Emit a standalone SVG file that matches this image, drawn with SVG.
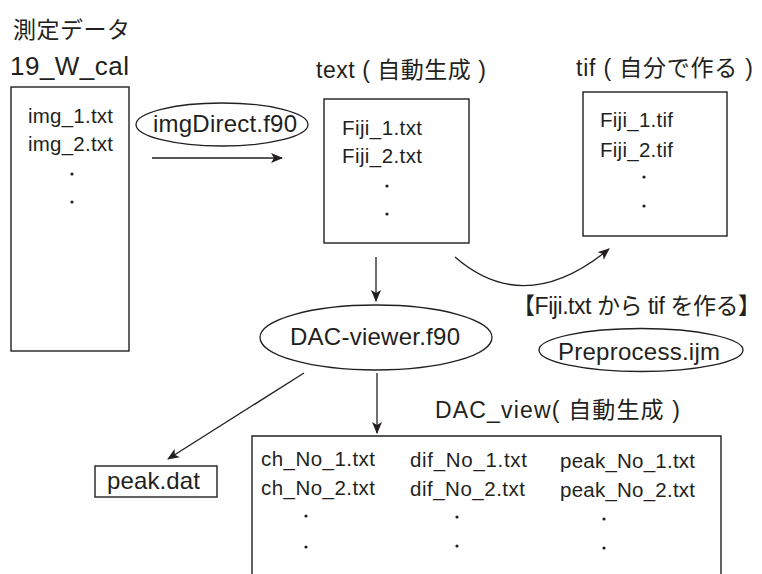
<svg xmlns="http://www.w3.org/2000/svg" width="762" height="574" viewBox="0 0 762 574">
<style>
text{font-family:"Liberation Sans","Noto Sans CJK JP",sans-serif;fill:#231f20}
.s{font-size:20.5px}
.m{font-size:23px}
.l{font-size:24px}
.box{fill:none;stroke:#231f20;stroke-width:1.4}
.ell{fill:none;stroke:#231f20;stroke-width:1.3}
.con{fill:none;stroke:#231f20;stroke-width:1.3;marker-end:url(#ah)}
.dot{fill:#231f20}
</style>
<defs>
<marker id="ah" viewBox="0 0 12 10" refX="11" refY="5" markerWidth="12" markerHeight="10" markerUnits="userSpaceOnUse" orient="auto">
<path d="M0,0 L12,5 L0,10 L3,5 z" fill="#231f20"/>
</marker>
</defs>
<rect width="762" height="574" fill="#fff"/>

<g id="data">
<text class="m" x="13" y="38" textLength="117">測定データ</text>
<text x="10" y="75" style="font-size:26px" textLength="119">19_W_cal</text>
<rect class="box" x="11" y="87" width="118" height="264"/>
<text class="s" x="28" y="123" textLength="85">img_1.txt</text>
<text class="s" x="28" y="151" textLength="85">img_2.txt</text>
<circle class="dot" cx="72" cy="174" r="1.6"/>
<circle class="dot" cx="72" cy="202" r="1.6"/>
</g>

<g id="imgDirect">
<ellipse class="ell" cx="222" cy="124.5" rx="86" ry="21.5"/>
<text class="l" x="153" y="132" textLength="144">imgDirect.f90</text>
</g>

<g id="text">
<text class="m" x="316" y="78" textLength="170">text ( 自動生成 )</text>
<rect class="box" x="324" y="99" width="145" height="144"/>
<text class="s" x="342" y="135" textLength="80">Fiji_1.txt</text>
<text class="s" x="342" y="163" textLength="80">Fiji_2.txt</text>
<circle class="dot" cx="387" cy="186" r="1.6"/>
<circle class="dot" cx="387" cy="214" r="1.6"/>
</g>

<g id="tif">
<text class="m" x="576" y="76" textLength="177">tif ( 自分で作る )</text>
<rect class="box" x="583" y="92" width="144" height="144"/>
<text class="s" x="600" y="127" textLength="73">Fiji_1.tif</text>
<text class="s" x="600" y="157" textLength="73">Fiji_2.tif</text>
<circle class="dot" cx="644" cy="177" r="1.6"/>
<circle class="dot" cx="644" cy="206" r="1.6"/>
</g>

<g id="preprocess">
<text class="m" x="512" y="314" textLength="249">【Fiji.txt から tif を作る】</text>
<ellipse class="ell" cx="641" cy="350" rx="102" ry="21.5"/>
<text class="l" x="558" y="360" textLength="162">Preprocess.ijm</text>
</g>

<g id="dacviewer">
<ellipse class="ell" cx="376" cy="337.5" rx="116" ry="32.5"/>
<text class="l" x="290" y="345" textLength="170">DAC-viewer.f90</text>
</g>

<g id="peak">
<rect class="box" x="95" y="466" width="122" height="31"/>
<text class="l" x="107" y="489" textLength="93">peak.dat</text>
</g>

<g id="dacview">
<text class="m" x="435" y="418" textLength="245">DAC_view( 自動生成 )</text>
<path class="box" d="M252,574 V436 H721 V574"/>
<text class="s" x="261" y="466" textLength="114">ch_No_1.txt</text>
<text class="s" x="261" y="495" textLength="114">ch_No_2.txt</text>
<circle class="dot" cx="306" cy="516" r="1.6"/>
<circle class="dot" cx="306" cy="547" r="1.6"/>
<text class="s" x="410" y="467" textLength="117">dif_No_1.txt</text>
<text class="s" x="410" y="496" textLength="115">dif_No_2.txt</text>
<circle class="dot" cx="457" cy="517" r="1.6"/>
<circle class="dot" cx="457" cy="546" r="1.6"/>
<text class="s" x="560" y="468" textLength="135">peak_No_1.txt</text>
<text class="s" x="560" y="497" textLength="135">peak_No_2.txt</text>
<circle class="dot" cx="604" cy="519" r="1.6"/>
<circle class="dot" cx="604" cy="548" r="1.6"/>
</g>

<g id="connectors">
<line class="con" x1="152" y1="158" x2="282" y2="158"/>
<line class="con" x1="376" y1="257" x2="376" y2="301"/>
<path class="con" d="M455,257 Q525,318 609,249"/>
<line class="con" x1="377" y1="373" x2="377" y2="433"/>
<line class="con" x1="304" y1="373" x2="168" y2="459"/>
</g>
</svg>
